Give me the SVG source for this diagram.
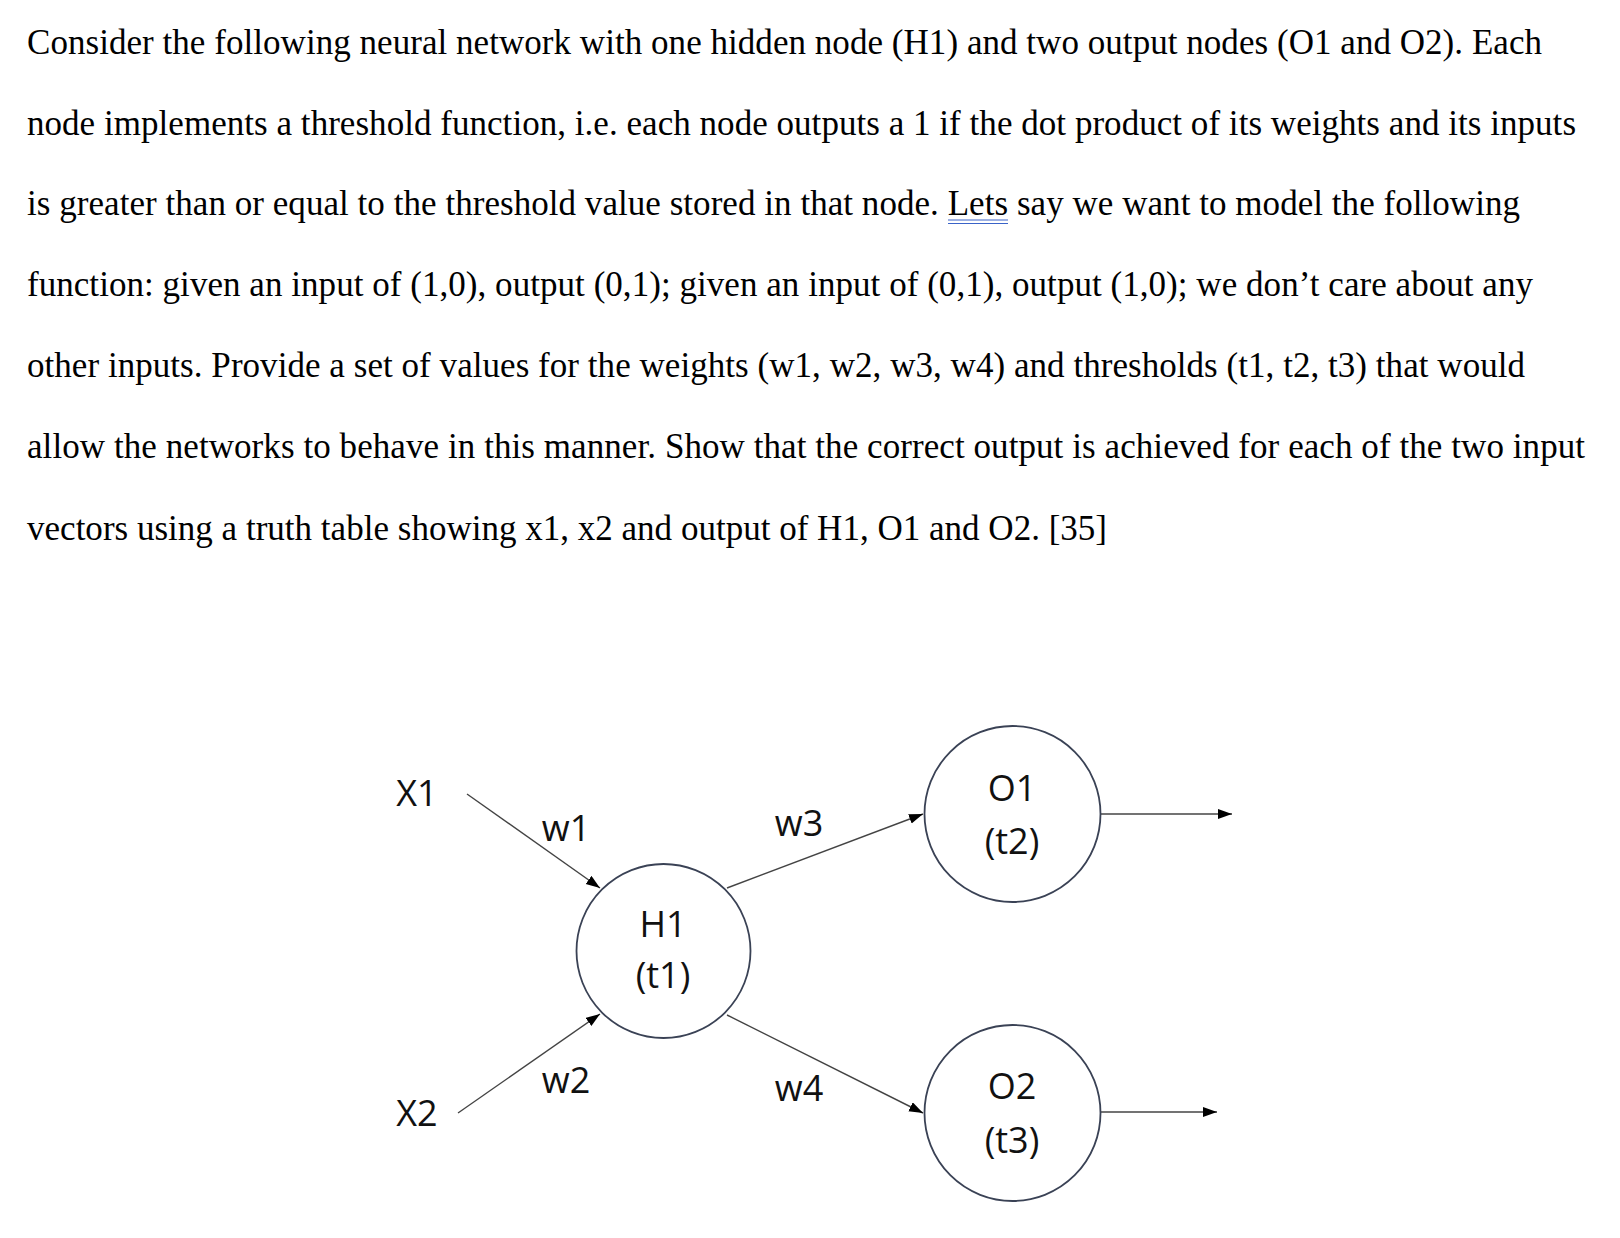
<svg xmlns="http://www.w3.org/2000/svg" width="1620" height="1238" viewBox="0 0 1620 1238">
<style>
.para{font-family:"Liberation Serif","Times New Roman",serif;font-size:35px;fill:#000}
.lbl{font-family:"Open Sans","Liberation Sans",sans-serif;font-size:36px;fill:#111;text-anchor:middle}
.node{fill:#fff;stroke:#3a4255;stroke-width:1.8}
.edge{stroke:#444;stroke-width:1.4;fill:none;marker-end:url(#arr)}
</style>
<defs>
<marker id="arr" markerUnits="userSpaceOnUse" markerWidth="16" markerHeight="12" refX="14" refY="5" orient="auto">
<path d="M0,0 L14,5 L0,10 z" fill="#000"/>
</marker>
</defs>
<rect width="1620" height="1238" fill="#fff"/>
<g id="question">
<text class="para" x="27" y="54" textLength="1515">Consider the following neural network with one hidden node (H1) and two output nodes (O1 and O2). Each</text>
<text class="para" x="27" y="135" textLength="1549">node implements a threshold function, i.e. each node outputs a 1 if the dot product of its weights and its inputs</text>
<text class="para" x="27" y="215" textLength="1493">is greater than or equal to the threshold value stored in that node. Lets say we want to model the following</text>
<text class="para" x="27" y="296" textLength="1506">function: given an input of (1,0), output (0,1); given an input of (0,1), output (1,0); we don’t care about any</text>
<text class="para" x="27" y="377" textLength="1498">other inputs. Provide a set of values for the weights (w1, w2, w3, w4) and thresholds (t1, t2, t3) that would</text>
<text class="para" x="27" y="458" textLength="1558">allow the networks to behave in this manner. Show that the correct output is achieved for each of the two input</text>
<text class="para" x="27" y="540" textLength="1080">vectors using a truth table showing x1, x2 and output of H1, O1 and O2. [35]</text>
<line x1="948" y1="220" x2="1008" y2="220" stroke="#3a63c8" stroke-width="1"/>
<line x1="948" y1="223.5" x2="1008" y2="223.5" stroke="#3a63c8" stroke-width="1"/>
</g>
<g id="connectors">
<line class="edge" x1="467" y1="794" x2="600" y2="888"/>
<line class="edge" x1="458" y1="1113" x2="600" y2="1014"/>
<line class="edge" x1="727" y1="888" x2="923" y2="814"/>
<line class="edge" x1="727" y1="1015" x2="923" y2="1113"/>
<line class="edge" x1="1101" y1="814" x2="1232" y2="814"/>
<line class="edge" x1="1101" y1="1112" x2="1217" y2="1112"/>
</g>
<g id="X1"><text class="lbl" x="417" y="806">X1</text></g>
<g id="X2"><text class="lbl" x="417" y="1126">X2</text></g>
<g id="edge-labels">
<text class="lbl" x="566" y="841">w1</text>
<text class="lbl" x="566" y="1093">w2</text>
<text class="lbl" x="799" y="836">w3</text>
<text class="lbl" x="799" y="1101">w4</text>
</g>
<g id="H1">
<circle class="node" cx="663.5" cy="951" r="87"/>
<text class="lbl" x="663" y="937">H1</text>
<text class="lbl" x="663" y="988">(t1)</text>
</g>
<g id="O1">
<circle class="node" cx="1012.5" cy="814" r="88"/>
<text class="lbl" x="1012" y="801">O1</text>
<text class="lbl" x="1012" y="854">(t2)</text>
</g>
<g id="O2">
<circle class="node" cx="1012.5" cy="1113" r="88"/>
<text class="lbl" x="1012" y="1099">O2</text>
<text class="lbl" x="1012" y="1153">(t3)</text>
</g>
</svg>
